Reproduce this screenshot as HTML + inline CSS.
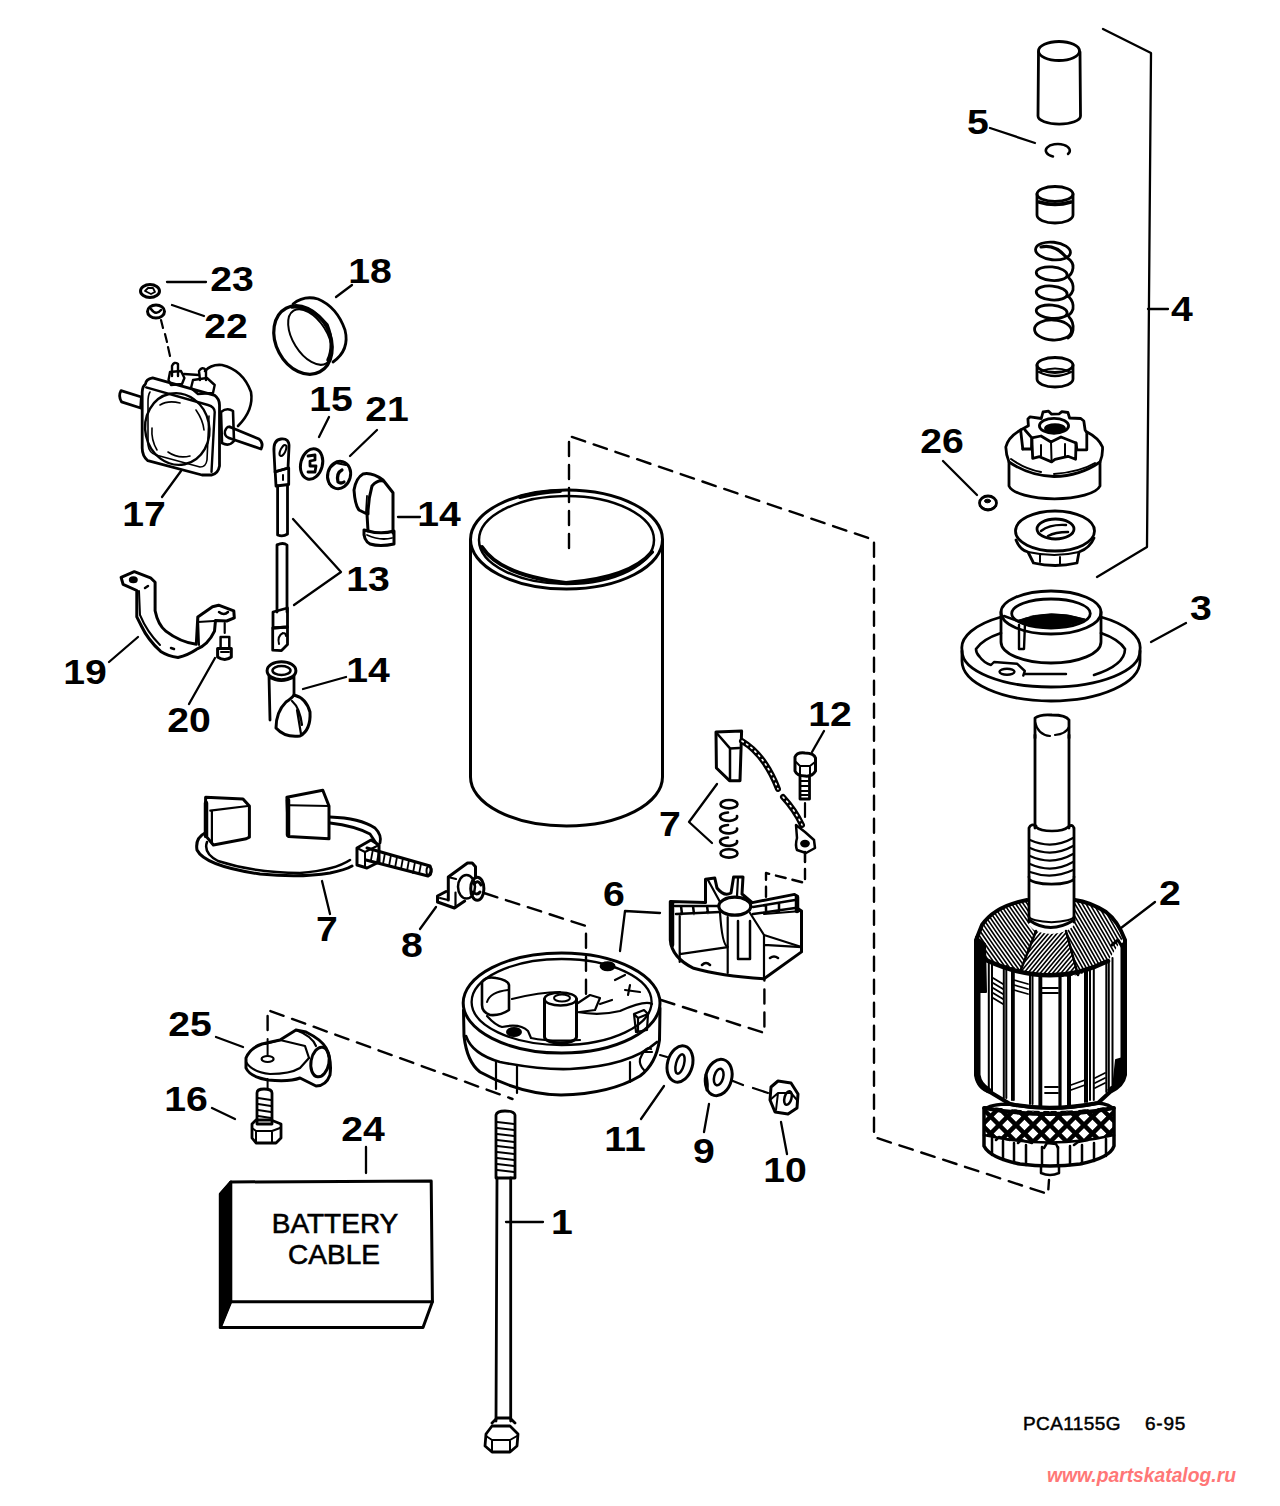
<!DOCTYPE html>
<html><head><meta charset="utf-8"><title>Starter parts diagram</title>
<style>
html,body{margin:0;padding:0;background:#fff;width:1280px;height:1506px;overflow:hidden}
svg{display:block}
.l{font-family:"Liberation Sans",sans-serif;font-weight:bold;font-size:35px;fill:#000;text-anchor:middle;transform-box:fill-box;transform-origin:center;transform:scaleX(1.12)}
.t{font-family:"Liberation Sans",sans-serif;fill:#000}
</style></head><body>
<svg width="1280" height="1506" viewBox="0 0 1280 1506">
<g fill="none" stroke="#000" stroke-width="2.8" stroke-linecap="round" stroke-linejoin="round">

<!-- RIGHT COLUMN -->
<g id="p4">
<ellipse cx="1059" cy="51" rx="20.5" ry="9.5"/>
<path d="M1038.5,52 L1038,116 A21,8 0 0 0 1080.5,116 L1080,52"/>
<path d="M1053,156.5 A12,6.5 0 1 1 1068,154" stroke-width="2.5"/>
<ellipse cx="1055" cy="194" rx="18" ry="7.5"/>
<path d="M1037,194 L1037,215 A18,8 0 0 0 1073,215 L1073,194"/>
<path d="M1039,202 Q1055,207 1071,202" stroke-width="3.5"/>
<g stroke-width="2.8">
<ellipse cx="1053" cy="251" rx="17.5" ry="8.8" transform="rotate(6 1053 251)"/>
<ellipse cx="1051.7" cy="273.7" rx="15.5" ry="6.8" transform="rotate(5 1051.7 273.7)"/>
<ellipse cx="1051.7" cy="293" rx="15.5" ry="7" transform="rotate(5 1051.7 293)"/>
<ellipse cx="1051.7" cy="311.7" rx="15.5" ry="6.6" transform="rotate(5 1051.7 311.7)"/>
<ellipse cx="1053" cy="330" rx="18.5" ry="10" transform="rotate(3 1053 330)"/>
<path d="M1066,257 Q1074,262 1073,268 Q1072,275 1067,277"/>
<path d="M1069,278 Q1074,283 1073,290 Q1071,296 1066,297"/>
<path d="M1069,297 Q1074,302 1073,309 Q1071,315 1066,316"/>
<path d="M1069,317 Q1074,322 1073,330 Q1072,336 1068,338"/>
<path d="M1041,247 Q1055,244 1066,257" stroke-width="3.2"/>
</g>
<ellipse cx="1055" cy="365" rx="18" ry="7.5"/>
<path d="M1037,365 L1037,379 A18,8 0 0 0 1073,379 L1073,365"/>
<path d="M1039,372 Q1055,380 1071,372" stroke-width="2.4"/>
<path d="M1041,371 Q1055,366 1069,371" stroke-width="2"/>
</g>
<g id="pinion">
<path d="M1020.6,430 A48.5,29 0 0 0 1005.8,447 Q1006,455 1009,462 L1009,486 A46,15 0 0 0 1100,486 L1100,462 Q1103,455 1102.5,447 A48.5,29 0 0 0 1087,432"/>
<path d="M1009,462 Q1030,476 1054,476.5 Q1080,476 1100,462"/>
<path d="M1011,459 Q1025,469 1041,472 M1054,474 Q1080,472 1095,463" stroke-width="2"/>
<path d="M1022.8,449 L1020.6,430 L1028.4,425.8 L1027.9,418.9 L1030.1,416.8 L1041.3,418.5 L1043,412 L1048.6,411.2 L1051.6,414.2 L1059.3,413.8 L1061.9,411.6 L1067.9,412.5 L1069.6,418 L1080.8,418.5 L1083.8,421 L1085.1,430 L1086.8,432.7 L1086.8,449.8 L1076.9,449.8 L1076,443"/>
<path d="M1022.8,449 L1031.5,449 L1031.8,437.8 L1025,430"/>
<path d="M1031.8,437.8 L1041,436 L1051,442 L1061,437 L1076,443 L1075.6,459.3 L1067.9,456.3 L1055,459.3 L1051.6,461.9 L1039.5,456.7 L1032.7,458.4 L1031.8,437.8"/>
<path d="M1051,442 L1051.6,461.9 M1041,445 L1041,456 M1065,444 L1065,456" stroke-width="2"/>
<ellipse cx="1054" cy="425.8" rx="14.6" ry="7.5"/>
<ellipse cx="1055" cy="428.5" rx="9.5" ry="3.8" fill="#000"/>
</g>
<g id="p26">
<ellipse cx="988" cy="503" rx="8.5" ry="7"/>
<path d="M980,506 Q988,513 996,506" stroke-width="2"/>
<ellipse cx="987.5" cy="501" rx="3" ry="1.8" fill="#000" stroke-width="1"/>
</g>
<g id="flangenut">
<ellipse cx="1055" cy="531" rx="39.5" ry="20"/>
<path d="M1037,529 A18.5,10 0 1 1 1074,529 A18.5,10 0 1 1 1037,529"/>
<path d="M1041,531 Q1050,524 1066,525 M1048,536 Q1055,532 1068,532" stroke-width="2.5"/>
<path d="M1016,540 Q1020,550 1028,552 L1033.5,563 Q1055,568 1077,563 L1079,552 Q1090,548 1094,538"/>
<path d="M1028,552 Q1055,558 1079,552 M1040,555 L1040,562 M1060,557 L1060,565" stroke-width="2"/>
</g>

<g id="p3">
<path d="M1001,617 A89,37 0 0 0 962,650 L962,661 A89,40 0 0 0 1140,661 L1140,650 A89,37 0 0 0 1101,617"/>
<path d="M962,651 A89,36 0 0 0 1140,651"/>
<path d="M1001,633 A74.6,31 0 0 0 976,649 Q976,653 979,656 M1094,675 Q1125,665 1125,649 A74.6,31 0 0 0 1101,633" stroke-width="2.6"/>
<path d="M979,656 Q984,663 991,665 L994,662 L1017,663.7 L1024.8,671 L1023.3,675.5 M1024,674 L1066,674" stroke-width="2.4"/>
<ellipse cx="1007" cy="671.8" rx="7.5" ry="3" stroke-width="2.4"/>
<path d="M1001,612 L1001,642 A50,21 0 0 0 1101,642 L1101,612"/>
<ellipse cx="1051" cy="612.5" rx="50" ry="21.5"/>
<ellipse cx="1051" cy="613.5" rx="39.3" ry="14.5"/>
<path d="M1019,620 Q1050,608 1085,619 Q1075,626 1051,628 Q1030,627 1019,620 Z" fill="#000" stroke-width="1"/>
<path d="M1004,616 L1018,621 L1029,622 M1019,625 L1019,649 L1024,649 L1025,623" stroke-width="2.4"/>
</g>

<g id="armature">
<defs>
<clipPath id="wA"><path d="M976,940 Q985,915 1010,905 L1028,901 L1029,925 Q1033,930 1036,931 L1020,972 L987,960 Z"/></clipPath>
<clipPath id="wB"><path d="M1036,931 Q1051,937 1066,931 L1078,975 Q1050,980 1020,972 Z"/></clipPath>
<clipPath id="wC"><path d="M1066,931 Q1072,928 1074,925 L1075,900 Q1100,905 1115,920 L1124,936 L1108,961 Q1095,970 1078,975 Z"/></clipPath>
<clipPath id="cm"><path d="M984,1106 Q1050,1116 1114,1106 L1114,1135 Q1050,1150 984,1135 Z"/></clipPath>
</defs>
<path d="M1035,738 L1035,718 Q1040,714 1052,715 Q1066,715 1069,720 L1069,738"/>
<path d="M1035,722 Q1038,735 1050,736 M1055,735 Q1066,734 1069,727" stroke-width="2.2"/>
<path d="M1035,735 L1035,828 M1069,735 L1069,828"/>
<path d="M1029,828 L1029,877 M1074,828 L1074,877 M1029,828 Q1031,823 1036,826 M1069,826 Q1074,824 1074,830" />
<path d="M1036,827 A17,6 0 0 0 1068,827" stroke-width="2.5"/>
<g stroke-width="2.2">
<path d="M1030,840 Q1052,850 1073,838"/>
<path d="M1030,848 Q1052,858 1073,846"/>
<path d="M1030,856 Q1052,866 1073,854"/>
<path d="M1030,864 Q1052,874 1073,862"/>
<path d="M1030,872 Q1052,880 1073,870"/>
</g>
<path d="M1029,877 L1029,922 M1074,877 L1074,922 M1029,878 A22,6 0 0 0 1074,878"/>
<path d="M1029,916 A22,6 0 0 0 1074,916" stroke-width="2"/>
<g clip-path="url(#wA)"><path d="M1036.8,778.6 Q1097.0,874.9 1166.9,964.3 M1034.2,780.4 Q1094.3,876.7 1164.3,966.1 M1031.6,782.2 Q1091.7,878.5 1161.6,968.0 M1029.0,784.1 Q1089.1,880.4 1159.0,969.8 M1026.4,785.9 Q1086.5,882.2 1156.4,971.6 M1023.7,787.7 Q1083.8,884.0 1153.8,973.5 M1021.1,789.6 Q1081.2,885.9 1151.2,975.3 M1018.5,791.4 Q1078.6,887.7 1148.5,977.1 M1015.9,793.3 Q1076.0,889.5 1145.9,979.0 M1013.3,795.1 Q1073.4,891.4 1143.3,980.8 M1010.6,796.9 Q1070.7,893.2 1140.7,982.6 M1008.0,798.8 Q1068.1,895.1 1138.1,984.5 M1005.4,800.6 Q1065.5,896.9 1135.4,986.3 M1002.8,802.4 Q1062.9,898.7 1132.8,988.1 M1000.1,804.3 Q1060.3,900.6 1130.2,990.0 M997.5,806.1 Q1057.6,902.4 1127.6,991.8 M994.9,807.9 Q1055.0,904.2 1124.9,993.6 M992.3,809.8 Q1052.4,906.1 1122.3,995.5 M989.7,811.6 Q1049.8,907.9 1119.7,997.3 M987.0,813.4 Q1047.1,909.7 1117.1,999.2 M984.4,815.3 Q1044.5,911.6 1114.5,1001.0 M981.8,817.1 Q1041.9,913.4 1111.8,1002.8 M979.2,818.9 Q1039.3,915.2 1109.2,1004.7 M976.6,820.8 Q1036.7,917.1 1106.6,1006.5 M973.9,822.6 Q1034.0,918.9 1104.0,1008.3 M971.3,824.5 Q1031.4,920.8 1101.4,1010.2 M968.7,826.3 Q1028.8,922.6 1098.7,1012.0 M966.1,828.1 Q1026.2,924.4 1096.1,1013.8 M963.5,830.0 Q1023.6,926.3 1093.5,1015.7 M960.8,831.8 Q1020.9,928.1 1090.9,1017.5 M958.2,833.6 Q1018.3,929.9 1088.2,1019.3 M955.6,835.5 Q1015.7,931.8 1085.6,1021.2 M953.0,837.3 Q1013.1,933.6 1083.0,1023.0 M950.3,839.1 Q1010.4,935.4 1080.4,1024.9 M947.7,841.0 Q1007.8,937.3 1077.8,1026.7 M945.1,842.8 Q1005.2,939.1 1075.1,1028.5 M942.5,844.6 Q1002.6,940.9 1072.5,1030.4 M939.9,846.5 Q1000.0,942.8 1069.9,1032.2 M937.2,848.3 Q997.3,944.6 1067.3,1034.0 M934.6,850.1 Q994.7,946.4 1064.7,1035.9 M932.0,852.0 Q992.1,948.3 1062.0,1037.7 M929.4,853.8 Q989.5,950.1 1059.4,1039.5 M926.8,855.7 Q986.9,952.0 1056.8,1041.4 M924.1,857.5 Q984.2,953.8 1054.2,1043.2 M921.5,859.3 Q981.6,955.6 1051.5,1045.0 M918.9,861.2 Q979.0,957.5 1048.9,1046.9 M916.3,863.0 Q976.4,959.3 1046.3,1048.7 M913.6,864.8 Q973.8,961.1 1043.7,1050.5 M911.0,866.7 Q971.1,963.0 1041.1,1052.4 M908.4,868.5 Q968.5,964.8 1038.4,1054.2 M905.8,870.3 Q965.9,966.6 1035.8,1056.1 M903.2,872.2 Q963.3,968.5 1033.2,1057.9 M900.5,874.0 Q960.6,970.3 1030.6,1059.7 M897.9,875.8 Q958.0,972.1 1028.0,1061.6 M895.3,877.7 Q955.4,974.0 1025.3,1063.4 M892.7,879.5 Q952.8,975.8 1022.7,1065.2 M890.1,881.4 Q950.2,977.7 1020.1,1067.1 M887.4,883.2 Q947.5,979.5 1017.5,1068.9 M884.8,885.0 Q944.9,981.3 1014.9,1070.7 M882.2,886.9 Q942.3,983.2 1012.2,1072.6 M879.6,888.7 Q939.7,985.0 1009.6,1074.4 M876.9,890.5 Q937.1,986.8 1007.0,1076.2 M874.3,892.4 Q934.4,988.7 1004.4,1078.1 M871.7,894.2 Q931.8,990.5 1001.7,1079.9 M869.1,896.0 Q929.2,992.3 999.1,1081.7 M866.5,897.9 Q926.6,994.2 996.5,1083.6 M863.8,899.7 Q923.9,996.0 993.9,1085.4 M861.2,901.5 Q921.3,997.8 991.3,1087.3 M858.6,903.4 Q918.7,999.7 988.6,1089.1 M856.0,905.2 Q916.1,1001.5 986.0,1090.9 M853.4,907.0 Q913.5,1003.3 983.4,1092.8 M850.7,908.9 Q910.8,1005.2 980.8,1094.6 M848.1,910.7 Q908.2,1007.0 978.2,1096.4" stroke-width="1.6"/></g>
<g clip-path="url(#wB)"><path d="M935.4,966.6 Q983.2,903.5 1037.0,845.5 M937.9,968.7 Q985.6,905.6 1039.5,847.6 M940.3,970.8 Q988.1,907.6 1041.9,849.6 M942.8,972.8 Q990.5,909.7 1044.4,851.7 M945.2,974.9 Q993.0,911.7 1046.8,853.7 M947.7,976.9 Q995.4,913.8 1049.3,855.8 M950.1,979.0 Q997.9,915.8 1051.7,857.9 M952.6,981.0 Q1000.3,917.9 1054.2,859.9 M955.0,983.1 Q1002.8,920.0 1056.6,862.0 M957.5,985.2 Q1005.2,922.0 1059.1,864.0 M959.9,987.2 Q1007.7,924.1 1061.5,866.1 M962.4,989.3 Q1010.1,926.1 1064.0,868.1 M964.8,991.3 Q1012.6,928.2 1066.4,870.2 M967.3,993.4 Q1015.0,930.2 1068.9,872.3 M969.7,995.4 Q1017.5,932.3 1071.4,874.3 M972.2,997.5 Q1019.9,934.4 1073.8,876.4 M974.6,999.5 Q1022.4,936.4 1076.3,878.4 M977.1,1001.6 Q1024.8,938.5 1078.7,880.5 M979.5,1003.7 Q1027.3,940.5 1081.2,882.5 M982.0,1005.7 Q1029.7,942.6 1083.6,884.6 M984.4,1007.8 Q1032.2,944.6 1086.1,886.7 M986.9,1009.8 Q1034.6,946.7 1088.5,888.7 M989.3,1011.9 Q1037.1,948.8 1091.0,890.8 M991.8,1013.9 Q1039.5,950.8 1093.4,892.8 M994.2,1016.0 Q1042.0,952.9 1095.9,894.9 M996.7,1018.1 Q1044.4,954.9 1098.3,896.9 M999.1,1020.1 Q1046.9,957.0 1100.8,899.0 M1001.6,1022.2 Q1049.3,959.0 1103.2,901.1 M1004.0,1024.2 Q1051.8,961.1 1105.7,903.1 M1006.5,1026.3 Q1054.2,963.2 1108.1,905.2 M1008.9,1028.3 Q1056.7,965.2 1110.6,907.2 M1011.4,1030.4 Q1059.1,967.3 1113.0,909.3 M1013.8,1032.5 Q1061.6,969.3 1115.5,911.3 M1016.3,1034.5 Q1064.0,971.4 1117.9,913.4 M1018.7,1036.6 Q1066.5,973.4 1120.4,915.5 M1021.2,1038.6 Q1068.9,975.5 1122.8,917.5 M1023.6,1040.7 Q1071.4,977.6 1125.3,919.6 M1026.1,1042.7 Q1073.9,979.6 1127.7,921.6 M1028.6,1044.8 Q1076.3,981.7 1130.2,923.7 M1031.0,1046.9 Q1078.8,983.7 1132.6,925.7 M1033.5,1048.9 Q1081.2,985.8 1135.1,927.8 M1035.9,1051.0 Q1083.7,987.8 1137.5,929.8 M1038.4,1053.0 Q1086.1,989.9 1140.0,931.9 M1040.8,1055.1 Q1088.6,992.0 1142.4,934.0 M1043.3,1057.1 Q1091.0,994.0 1144.9,936.0 M1045.7,1059.2 Q1093.5,996.1 1147.3,938.1 M1048.2,1061.3 Q1095.9,998.1 1149.8,940.1 M1050.6,1063.3 Q1098.4,1000.2 1152.2,942.2 M1053.1,1065.4 Q1100.8,1002.2 1154.7,944.2 M1055.5,1067.4 Q1103.3,1004.3 1157.1,946.3 M1058.0,1069.5 Q1105.7,1006.4 1159.6,948.4" stroke-width="1.6"/></g>
<g clip-path="url(#wC)"><path d="M1136.9,786.1 Q1197.2,878.5 1247.1,976.9 M1134.2,787.7 Q1194.4,880.1 1244.3,978.5 M1131.4,789.3 Q1191.6,881.7 1241.5,980.1 M1128.6,790.9 Q1188.9,883.3 1238.7,981.7 M1125.9,792.5 Q1186.1,884.9 1236.0,983.3 M1123.1,794.1 Q1183.3,886.5 1233.2,984.9 M1120.3,795.7 Q1180.6,888.1 1230.4,986.5 M1117.5,797.3 Q1177.8,889.7 1227.7,988.1 M1114.8,798.9 Q1175.0,891.3 1224.9,989.7 M1112.0,800.5 Q1172.2,892.9 1222.1,991.3 M1109.2,802.1 Q1169.5,894.5 1219.3,992.9 M1106.5,803.7 Q1166.7,896.1 1216.6,994.5 M1103.7,805.3 Q1163.9,897.7 1213.8,996.1 M1100.9,806.9 Q1161.2,899.3 1211.0,997.7 M1098.1,808.5 Q1158.4,900.9 1208.3,999.3 M1095.4,810.1 Q1155.6,902.5 1205.5,1000.9 M1092.6,811.7 Q1152.9,904.1 1202.7,1002.5 M1089.8,813.3 Q1150.1,905.7 1199.9,1004.1 M1087.1,814.9 Q1147.3,907.3 1197.2,1005.7 M1084.3,816.5 Q1144.5,908.9 1194.4,1007.3 M1081.5,818.1 Q1141.8,910.5 1191.6,1008.9 M1078.7,819.7 Q1139.0,912.1 1188.9,1010.5 M1076.0,821.3 Q1136.2,913.7 1186.1,1012.1 M1073.2,822.9 Q1133.5,915.3 1183.3,1013.7 M1070.4,824.5 Q1130.7,916.9 1180.5,1015.3 M1067.7,826.1 Q1127.9,918.5 1177.8,1016.9 M1064.9,827.7 Q1125.1,920.1 1175.0,1018.5 M1062.1,829.3 Q1122.4,921.7 1172.2,1020.1 M1059.3,830.9 Q1119.6,923.3 1169.5,1021.7 M1056.6,832.5 Q1116.8,924.9 1166.7,1023.3 M1053.8,834.1 Q1114.1,926.5 1163.9,1024.9 M1051.0,835.7 Q1111.3,928.1 1161.1,1026.5 M1048.3,837.3 Q1108.5,929.7 1158.4,1028.1 M1045.5,838.9 Q1105.7,931.3 1155.6,1029.7 M1042.7,840.5 Q1103.0,932.9 1152.8,1031.3 M1039.9,842.1 Q1100.2,934.5 1150.1,1032.9 M1037.2,843.7 Q1097.4,936.1 1147.3,1034.5 M1034.4,845.3 Q1094.7,937.7 1144.5,1036.1 M1031.6,846.9 Q1091.9,939.3 1141.7,1037.7 M1028.9,848.5 Q1089.1,940.9 1139.0,1039.3 M1026.1,850.1 Q1086.3,942.5 1136.2,1040.9 M1023.3,851.7 Q1083.6,944.1 1133.4,1042.5 M1020.5,853.3 Q1080.8,945.7 1130.7,1044.1 M1017.8,854.9 Q1078.0,947.3 1127.9,1045.7 M1015.0,856.5 Q1075.3,948.9 1125.1,1047.3 M1012.2,858.1 Q1072.5,950.5 1122.3,1048.9 M1009.5,859.7 Q1069.7,952.1 1119.6,1050.5 M1006.7,861.3 Q1066.9,953.7 1116.8,1052.1 M1003.9,862.9 Q1064.2,955.3 1114.0,1053.7 M1001.1,864.5 Q1061.4,956.9 1111.3,1055.3 M998.4,866.1 Q1058.6,958.5 1108.5,1056.9 M995.6,867.7 Q1055.9,960.1 1105.7,1058.5 M992.8,869.3 Q1053.1,961.7 1102.9,1060.1 M990.1,870.9 Q1050.3,963.3 1100.2,1061.7 M987.3,872.5 Q1047.5,964.9 1097.4,1063.3 M984.5,874.1 Q1044.8,966.5 1094.6,1064.9 M981.7,875.7 Q1042.0,968.1 1091.9,1066.5 M979.0,877.3 Q1039.2,969.7 1089.1,1068.1 M976.2,878.9 Q1036.5,971.3 1086.3,1069.7 M973.4,880.5 Q1033.7,972.9 1083.5,1071.3 M970.7,882.1 Q1030.9,974.5 1080.8,1072.9 M967.9,883.7 Q1028.1,976.1 1078.0,1074.5 M965.1,885.3 Q1025.4,977.7 1075.2,1076.1 M962.3,886.9 Q1022.6,979.3 1072.5,1077.7 M959.6,888.5 Q1019.8,980.9 1069.7,1079.3 M956.8,890.1 Q1017.1,982.5 1066.9,1080.9 M954.0,891.7 Q1014.3,984.1 1064.1,1082.5 M951.3,893.3 Q1011.5,985.7 1061.4,1084.1 M948.5,894.9 Q1008.7,987.3 1058.6,1085.7 M945.7,896.5 Q1006.0,988.9 1055.8,1087.3 M942.9,898.1 Q1003.2,990.5 1053.1,1088.9" stroke-width="1.6"/></g>
<path d="M1036,931 L1020,972 M1066,931 L1078,975" stroke-width="2.5"/>
<path d="M1027,900 Q995,906 982,925 L976,940 L976,1075 Q978,1088 990,1092 L1010,1104 Q1050,1112 1098,1103 L1110,1092 Q1123,1086 1125,1075 L1125,940 Q1118,921 1106,912 Q1090,902 1075,900" stroke-width="4"/>
<path d="M1029,920 Q1050,935 1074,920" stroke-width="3"/>
<path d="M986,960 Q1050,990 1108,961" stroke-width="4.5"/>
<path d="M977.5,945 L977.5,1075 Q979,1085 988,1090" stroke-width="6"/>
<path d="M976,937 L985,944 L986,992 L976,992 Z" fill="#000" stroke-width="2"/>
<path d="M1116,1060 L1123,1058 L1123,1075 Q1120,1085 1113,1088 Z" fill="#000" stroke-width="2"/>
<path d="M1123,945 L1123,1070 Q1122,1082 1110,1090" stroke-width="5"/>
<path d="M1112,945 L1118,940 L1124,950" stroke-width="3"/>
<g stroke-width="2">
<path d="M988.8,962 L988.8,1090 M992,962 L992,1092 M1003.8,966 L1003.8,1098 M1006.3,966 L1006.3,1098 M1012,968 L1012,1100 M1013.8,968 L1013.8,1100 M1030,973 L1030,1104 M1032.5,973 L1032.5,1104 M1039.4,975 L1039.4,1106 M1041.3,975 L1041.3,1106 M1059.4,976 L1059.4,1106 M1060.6,976 L1060.6,1106 M1068,975 L1068,1105 M1070,975 L1070,1105 M1085,970 L1085,1102 M1087,970 L1087,1102 M1090,968 L1090,1100 M1093.8,968 L1093.8,1100 M1106.3,962 L1106.3,1092 M1108.8,962 L1108.8,1092 M1112.5,958 L1112.5,1085"/>
</g>
<g stroke-width="1.8">
<path d="M993,978 L1003,984 M993,983 L1003,989 M993,988 L1003,994 M993,993 L1003,999 M993,998 L1003,1004 M1014,980 L1028,984 M1014,985 L1028,989 M1014,990 L1028,994 M1041,988 L1058,988 M1041,993 L1058,993 M1071,1085 L1085,1080 M1071,1090 L1085,1085 M1095,1078 L1105,1073 M1095,1083 L1105,1078 M1095,1088 L1105,1083 M1045,1087 L1058,1087 M1045,1093 L1058,1093"/>
</g>
<path d="M984,1110 Q990,1104 1010,1104 Q1050,1113 1098,1103 Q1110,1104 1114,1110 L1114,1146 Q1110,1158 1080,1164 Q1050,1168 1020,1164 Q990,1158 984,1146 Z" stroke-width="3.5"/>
<g clip-path="url(#cm)" stroke-width="4"><path d="M1055.2,909.6 L1265.4,1119.8 M1046.7,918.1 L1256.9,1128.3 M1038.2,926.5 L1248.5,1136.8 M1029.7,935.0 L1240.0,1145.3 M1021.2,943.5 L1231.5,1153.8 M1012.8,952.0 L1223.0,1162.2 M1004.3,960.5 L1214.5,1170.7 M995.8,969.0 L1206.0,1179.2 M987.3,977.5 L1197.5,1187.7 M978.8,985.9 L1189.1,1196.2 M970.3,994.4 L1180.6,1204.7 M961.9,1002.9 L1172.1,1213.1 M953.4,1011.4 L1163.6,1221.6 M944.9,1019.9 L1155.1,1230.1 M936.4,1028.4 L1146.6,1238.6 M927.9,1036.9 L1138.1,1247.1 M919.4,1045.3 L1129.7,1255.6 M910.9,1053.8 L1121.2,1264.1 M902.5,1062.3 L1112.7,1272.5 M894.0,1070.8 L1104.2,1281.0 M885.5,1079.3 L1095.7,1289.5 M877.0,1087.8 L1087.2,1298.0 M868.5,1096.2 L1078.8,1306.5 M860.0,1104.7 L1070.3,1315.0 M851.5,1113.2 L1061.8,1323.5 M843.1,1121.7 L1053.3,1331.9 M834.6,1130.2 L1044.8,1340.4" stroke-width="4.5"/><path d="M834.6,1119.8 L1044.8,909.6 M843.1,1128.3 L1053.3,918.1 M851.5,1136.8 L1061.8,926.5 M860.0,1145.3 L1070.3,935.0 M868.5,1153.8 L1078.8,943.5 M877.0,1162.2 L1087.2,952.0 M885.5,1170.7 L1095.7,960.5 M894.0,1179.2 L1104.2,969.0 M902.5,1187.7 L1112.7,977.5 M910.9,1196.2 L1121.2,985.9 M919.4,1204.7 L1129.7,994.4 M927.9,1213.1 L1138.1,1002.9 M936.4,1221.6 L1146.6,1011.4 M944.9,1230.1 L1155.1,1019.9 M953.4,1238.6 L1163.6,1028.4 M961.9,1247.1 L1172.1,1036.9 M970.3,1255.6 L1180.6,1045.3 M978.8,1264.1 L1189.1,1053.8 M987.3,1272.5 L1197.5,1062.3 M995.8,1281.0 L1206.0,1070.8 M1004.3,1289.5 L1214.5,1079.3 M1012.8,1298.0 L1223.0,1087.8 M1021.2,1306.5 L1231.5,1096.2 M1029.7,1315.0 L1240.0,1104.7 M1038.2,1323.5 L1248.5,1113.2 M1046.7,1331.9 L1256.9,1121.7 M1055.2,1340.4 L1265.4,1130.2" stroke-width="4.5"/></g>
<path d="M984,1108 Q1050,1120 1114,1108" stroke-width="4"/>
<path d="M984,1135 Q1050,1150 1114,1135" stroke-width="2.5"/>
<g stroke-width="2.5">
<path d="M992,1138 L992,1155 M1003,1141 L1003,1160 M1014,1143 L1014,1163 M1026,1145 L1026,1165 M1042,1147 L1042,1166 M1058,1147 L1058,1166 M1070,1146 L1070,1165 M1082,1145 L1082,1164 M1094,1143 L1094,1161 M1106,1139 L1106,1156"/>
<path d="M996,1140 L999,1137 L1010,1140 M1018,1143 L1021,1140 L1032,1143 M1044,1148 L1047,1143 L1056,1144 L1058,1148 M1074,1145 L1078,1142 L1088,1140"/>
</g>
<path d="M1041,1166 L1041,1173 Q1050,1177 1059,1173 L1059,1166" stroke-width="2.5"/>
</g>
<g id="frame">
<ellipse cx="566.5" cy="539.5" rx="96" ry="49.5" stroke-width="3"/>
<ellipse cx="566.5" cy="540" rx="87.5" ry="44" stroke-width="2.5"/>
<path d="M482,547 Q500,575 566,583 Q630,578 652,552" stroke-width="4"/>
<path d="M520,497 Q540,492 560,491" stroke-width="4"/>
<path d="M470.5,540 L470.5,777 A96,49 0 0 0 662.5,777 L662.5,540" stroke-width="3"/>
</g>
<g id="brush7a">
<path d="M716,732 L741.6,731 L740,780.7 L729.5,780.7 L716.4,768 Z" stroke-width="3"/>
<path d="M717.5,734 L730,748.4 L739,748 M730,748.4 L730,780" stroke-width="2.5"/>
<path d="M742,741 Q765,755 778,789" stroke-width="6"/>
<path d="M742,741 Q765,755 778,789" stroke="#fff" stroke-width="1.6" stroke-dasharray="1.5,4"/>
<path d="M783,797 Q795,810 802,825" stroke-width="6"/>
<path d="M783,797 Q795,810 802,825" stroke="#fff" stroke-width="1.6" stroke-dasharray="1.5,4"/>
<path d="M796,825 L797,838 Q795,845 797,850 L806,853 L815,848 L814,840 L805,832 Z" stroke-width="2.5"/>
<ellipse cx="805" cy="843.6" rx="3.5" ry="2.5" fill="#000"/>
<g stroke-width="2.6">
<ellipse cx="729" cy="804.2" rx="8.5" ry="4.2"/>
<path d="M737,816 A8.5,4.2 0 1 1 728,812.5 M737,828.5 A8.5,4.2 0 1 1 728,825 M737,841 A8.5,4.2 0 1 1 728,837.5"/>
<ellipse cx="729" cy="853.4" rx="8.5" ry="4.2"/>
</g>
</g>
<g id="bolt12">
<path d="M795,757 Q797,752 805,753 Q814,753 815.5,758 L815.5,771 Q812,777 805,776 Q797,776 795,771 Z" stroke-width="3"/>
<path d="M796,762 L800,766 L810,766 L815,762 M800,766 L800,775 M810,766 L810,775" stroke-width="2"/>
<path d="M800,776 L800,799 L809.5,799 L809.5,776" stroke-width="2.8"/>
<path d="M801,781 L808,781 M801,786 L808,786 M801,791 L808,791 M801,795 L808,795" stroke-width="1.8"/>
<path d="M805,803 L805,817 M805,852 L805,862" stroke-width="2.2"/>
</g>
<g id="holder6">
<path d="M670.3,901.5 L705.5,902.6 L705.5,879.2 L714.8,878 L717,888 Q724,897 731,893 L733.6,876.9 L743,876.9 L742,894 L752.3,902.6 L794.5,894.4 L797,896 L797,908 L801.5,911 L801.5,951.9 L764,978.8 Q720,976 693.7,968.3 Q672,958 670.3,940 Z" stroke-width="3"/>
<path d="M672,903 L672,945" stroke-width="4.5"/>
<path d="M797,897 L797,911" stroke-width="4.5"/>
<ellipse cx="734.8" cy="906.2" rx="16" ry="9" stroke-width="3.2"/>
<path d="M675,906 L718,906 M676,914 L720,912 M681,906 L682,914 M693,906 L694,914 M707,906 L708,913" stroke-width="2.5"/>
<path d="M753,907 L795,900 M753,914 L795,908 M766,905 L766,913 M779,903 L779,911" stroke-width="2.5"/>
<path d="M708,880 L720,902 M738,878 L737,896 M720,912 Q722,945 727.7,947 M750,913 L764,935 L801.5,947" stroke-width="2.2"/>
<path d="M727.7,917 L727.7,973 M764,935 L764,978.8 M679.7,954.2 L727.7,947.2 M679.7,916 L679.7,962 M764,944.8 L801.5,947.2 M801.5,911 L764,914" stroke-width="2.2"/>
<path d="M738,921 L738,959 L750,959 L750,921" stroke-width="2.5"/>
<path d="M702,965 Q706,961 710,965 M770,958 Q774,955 778,958" stroke-width="2.5"/>
</g>
<g id="endcap">
<ellipse cx="561.6" cy="1003" rx="98.4" ry="50" stroke-width="3"/>
<ellipse cx="561.6" cy="1002" rx="90" ry="43" stroke-width="2.3"/>
<path d="M463.5,1010 L464,1036 Q467,1062 480,1072 Q520,1094 561,1095 Q610,1094 640,1076 Q656,1064 659.5,1040 L660,1008" stroke-width="3"/>
<path d="M466,1036 Q472,1054 500,1062 Q540,1070 570,1069 Q630,1066 657,1042" stroke-width="2.6"/>
<path d="M496,1061 L496,1089 M517,1066 L517,1093 M630,1062 L630,1082" stroke-width="2.2"/>
<path d="M482,982 Q486,976 496,978 Q508,980 509,985 L509,1010 Q500,1016 490,1015 Q482,1012 482,1005 Z" stroke-width="2.6"/>
<path d="M487,1002 Q490,992 508,990" stroke-width="2"/>
<path d="M544.5,999 L544.5,1037 A16,6 0 0 0 576.5,1037 L576.5,999" stroke-width="3"/>
<ellipse cx="560.5" cy="999" rx="16" ry="6.5" stroke-width="2.5"/>
<ellipse cx="562" cy="998" rx="8" ry="3.5" stroke-width="2"/>
<path d="M512,999 Q540,992 560,992 M487,1016 Q495,1025 502,1027 Q520,1023 528,1031 L531,1038 Q550,1042 580,1040 M577,1012 Q600,1016 620,1011 Q645,1000 652,1004" stroke-width="2.2"/>
<path d="M578,1003 L590,995 L600,998 L595,1010 L580,1012 M600,1004 L612,1000 M625,990 L640,992 M630,985 L628,995 M615,980 L625,975" stroke-width="2.2"/>
<ellipse cx="514" cy="1032" rx="7" ry="4" fill="#000" stroke-width="2"/>
<ellipse cx="607.6" cy="966.3" rx="7" ry="4" fill="#000" stroke-width="2"/>
<path d="M640,1059 Q646,1045 651,1049 M640,1059 Q639,1065 644,1070 M643,1052 L652,1052" stroke-width="2.2"/>

<path d="M634,1014 L644,1010 L648,1014 L647,1030 L636,1032 Z M634,1014 L638,1018 L638,1032 M638,1018 L648,1014" stroke-width="2.2"/>
</g>
<g id="washers">
<ellipse cx="680" cy="1064" rx="12.5" ry="18.5" transform="rotate(15 680 1064)" stroke-width="3"/>
<ellipse cx="680" cy="1064" rx="4" ry="10" transform="rotate(15 680 1064)" stroke-width="2.5"/>
<path d="M667,1057 L660,1055" stroke-width="2.2"/>
<ellipse cx="718.7" cy="1077.5" rx="13" ry="18.5" transform="rotate(15 718.7 1077.5)" stroke-width="3"/>
<path d="M707,1090 Q708,1085 706,1075" stroke-width="3"/>
<ellipse cx="718.7" cy="1077" rx="4.5" ry="8.5" transform="rotate(15 718.7 1077)" stroke-width="2.5"/>
<path d="M733,1081 L743,1085 M753,1088 L768,1093" stroke-width="2.2"/>
<path d="M771,1087 L778,1081 L791,1083 L798,1094 L797,1108 L788,1114 L775,1112 L770,1100 Z" stroke-width="3"/>
<path d="M770,1100 L778,1093 L791,1093 L797,1100 M778,1093 L776,1110" stroke-width="2"/>
<ellipse cx="788" cy="1098" rx="3.5" ry="7" transform="rotate(15 788 1098)" stroke-width="2.5"/>
</g>
<g id="left">
<g id="nut23">
<ellipse cx="150" cy="291" rx="9.5" ry="6.5" stroke-width="3"/>
<path d="M145,291 L148,288 L153,288 L155,292 L151,294 Z" stroke-width="1.8"/>
<ellipse cx="156" cy="311.5" rx="8.5" ry="6.5" stroke-width="3"/>
<path d="M151,309 Q156,316 161,310" stroke-width="2.5"/>
<path d="M161,320 L163,328 M165,334 L167,342 M168,347 L170,356" stroke-width="2.2"/>
</g>
<g id="sol17">
<path d="M205,371 Q211,364 222,365 Q243,370 251,392 Q254,410 238,426" stroke-width="2.6"/>
<path d="M145.4,384.2 Q146,379 152.6,377.9 L214.7,395.4 Q219.5,399 219.5,405 L219.5,466 Q218,474 211.5,475 L202,475 L147.8,460.7 Q142.2,456 142.2,448 L142.2,392.2 Q142.5,386 145.4,384.2 Z" stroke-width="2.8"/>
<path d="M146.2,387.4 L208,405 Q214.7,407 214.7,412 L211.5,471.9" stroke-width="2.4"/>
<path d="M150,392 Q148,395 148,402 L148,445 Q149,453 156,455 L200,467 Q206,467 207,460 L209,416" stroke-width="1.6"/>
<ellipse cx="177.3" cy="429" rx="32" ry="36" transform="rotate(-12 177.3 429)" stroke-width="2.4"/>
<path d="M160,405 Q168,400 180,403 M190,456 Q178,459 168,452 M152,428 Q151,440 157,450 M196,410 Q203,420 204,430" stroke-width="1.6"/>
<path d="M121,390.6 L141.4,397 L140.6,408 L121.5,401.8 Q118,396 121,390.6 Z" stroke-width="2.8"/>
<path d="M221,412 Q227,407 233,411 L234,441 Q229,447 222,443 Z" stroke-width="2.6"/>
<path d="M230,427 L259,439 Q264,443 261,449 L229,438" stroke-width="2.8"/>
<path d="M229,438 Q224,436 225,431 Q227,426 230,427" stroke-width="2.4"/>
<path d="M172,376 L172,366 Q174,361 178,364 L178,376" stroke-width="2.4"/>
<path d="M168.5,380 L170,372 L181,371 L184.4,378 L182,384 L171,385 Z" stroke-width="2.4"/>
<path d="M200,380 L199,371 Q202,366 206,370 L206,380" stroke-width="2.4"/>
<path d="M191,388 L193,380 L207,378 L214.7,385 L213,393 L198,394 Z" stroke-width="2.4"/>
<path d="M184,374 L199,375" stroke-width="2.6"/>
</g>
<g id="ring18">
<path d="M293,304 Q304,295 318,299 Q337,307 345,330 Q350,350 333,362" stroke-width="2.8"/>
<ellipse cx="303" cy="340" rx="27" ry="36" transform="rotate(-28 303 340)" stroke-width="3.2"/>
<ellipse cx="310" cy="337" rx="17" ry="31" transform="rotate(-32 310 337)" stroke-width="2"/>
<path d="M292,307 Q310,305 327,325 Q335,345 328,360" stroke-width="3.5"/>
</g>
<g id="cable13">
<path d="M274,452 Q273,440 281,439 Q289.5,438 289,447 L288,468 L275,472 Z" stroke-width="2.8"/>
<ellipse cx="283" cy="450.5" rx="2.5" ry="6" transform="rotate(25 283 450.5)" stroke-width="2"/>
<path d="M275.2,471.6 L288.7,468 L288.7,484.5 L276,486 Z" stroke-width="2.8"/>
<path d="M283,475 L283,480" stroke-width="2"/>
<path d="M277.6,486 L277.6,535 Q283,537 287.5,534 L287.5,485" stroke-width="2.8"/>
<path d="M277,552 L277,545 Q283,542 287,545 L287,552 M277,545 L277,612 M287,552 L287,612" stroke-width="2.8"/>
<path d="M273,612 L287.5,608 L287.5,627 L273,628 Z" stroke-width="2.8"/>
<path d="M272.7,628 L287.5,627 L287.5,644.6 L281.5,650.6 L272.7,650.2 Z" stroke-width="2.8"/>
<path d="M283,633 Q277,636 279,644 M283,633 Q286,633 286,636" stroke-width="2"/>
</g>
<g id="wash15">
<ellipse cx="311.6" cy="464" rx="10.8" ry="15.5" transform="rotate(15 311.6 464)" stroke-width="3"/>
<path d="M308,456 L315,455 L315,460 L310,461 L310,466 L316,466 L315,472 L308,472" stroke-width="2.8"/>
<ellipse cx="339.1" cy="475" rx="11.4" ry="13.8" transform="rotate(15 339 475)" stroke-width="3"/>
<path d="M330,468 L336,463 L346,465 M329,484 L335,488" stroke-width="2"/>
<path d="M342,470 Q336,473 338,482 Q341,484 344,482" stroke-width="3.2"/>
</g>
<g id="boot14a">
<path d="M354,490 Q356,478 363,474 Q372,472 383,480 L393,492.7 L393,533 M354,490 Q355,505 359,510 L367,514 L368,531 M368,514 Q368,500 372,486 Q377,480 383,481" stroke-width="3"/>
<path d="M364,530 Q363,540 370,544 Q380,547 394,544 L394,531 Q380,535 364,530 Z" stroke-width="3"/>
<path d="M367,535 Q380,541 392,538" stroke-width="1.8"/>
<path d="M367,496 L366,512" stroke-width="1.8"/>
</g>
<g id="clamp19">
<path d="M121.1,577.3 L134.3,571.7 L150.5,577.8 L155.1,582.3 L155.1,610.8 Q158,625 165.8,631.1 Q180,642 196.3,644.3 L197.8,616.9 L212.5,606.7 L218.6,605.2 L233.8,610.8 L234.3,617.9 L226.7,621 L215.5,620.4 L214.5,631.1 Q208,645 196.3,649.4 Q188,655 178,657.5 Q168,656 160.7,651.4 Q148,640 141.4,626 L136.8,616.9 L136.8,590.5 L123.1,584.4 Z" stroke-width="3"/>
<path d="M139,591 L140,615 Q147,632 160,645 M198,617 L199,645 M198,622 L214,621" stroke-width="2"/>
<path d="M145,588 L148,586 M171,648 L174,649 M219,612 Q224,616 228,612" stroke-width="2.5"/>
<ellipse cx="133.3" cy="579.8" rx="3.5" ry="2.5" fill="#000" stroke-width="2"/>
<path d="M224.7,623 L224.7,633" stroke-width="2.2"/>
<path d="M220.6,637 L229.3,637 L229.3,648.4 L220.6,648.4 Z" stroke-width="2.5"/>
<path d="M217.6,648.4 L231.3,648.4 L231.3,657 Q225,662 217.6,657 Z" stroke-width="3"/>
<path d="M221,652 L229,652" stroke-width="2"/>
</g>
<g id="boot14b">
<ellipse cx="281.5" cy="670.7" rx="14.4" ry="9" stroke-width="3"/>
<ellipse cx="281.5" cy="670.5" rx="9" ry="4.5" stroke-width="2.5"/>
<path d="M269,676 L270,720 M294,676 L294,695 M269,677 Q281,684 294,677" stroke-width="2.8"/>
<path d="M294,695 Q306,698 310,712 Q311,730 300,736 Q285,738 276,728 Q276,712 286,702 Q292,698 294,695" stroke-width="3"/>
<path d="M292,701 Q300,708 302,725 M297,710 L301,734" stroke-width="2.2"/>
</g>
<g id="brush7b">
<path d="M205.6,797.3 L243,798.9 L249.4,806 L249.4,837.2 L246.25,838.75 L213.4,845 L205.6,835.6 Z" stroke-width="3"/>
<path d="M210.3,810.6 L247.8,806 M211.9,810.6 L211.9,843.4" stroke-width="2.2"/>
<path d="M206,803 L206,836" stroke-width="4.5"/>
<path d="M286.9,797.3 L322.8,790.3 L329,806 L329,838.75 L288.4,836.4 Z" stroke-width="3"/>
<path d="M290,805.2 L329,806" stroke-width="2"/>
<path d="M288,800 L288,835" stroke-width="4.5"/>
<path d="M205,833 Q195,838 197,850 Q205,866 260,874 Q300,878 330,873 Q345,870 352,866" stroke-width="3"/>
<path d="M207,842 Q203,853 218,861 Q255,873 300,873 Q335,870 350,860" stroke-width="2.5"/>
<path d="M330,817 Q360,818 375,828 Q382,835 380,843 M330,823 Q355,826 370,834 L376,843" stroke-width="2.8"/>
<path d="M357,848 L371,840 L379,845 L379,862 L367,868 L357,865 Z" stroke-width="3"/>
<path d="M357,848 L365,852 L365,867 M365,852 L379,845" stroke-width="2"/>
<path d="M367,848 L430,866 Q433,872 428,876 L366,860" stroke-width="3"/>
<path d="M373,849 L371,860 M379,851 L377,862 M385,853 L383,864 M391,855 L389,866 M397,857 L395,868 M403,858 L401,869 M409,860 L407,871 M415,862 L413,873 M421,864 L419,874" stroke-width="1.8"/>
<ellipse cx="429" cy="871" rx="2.5" ry="4.5" stroke-width="2"/>
</g>
<g id="part8">
<path d="M446,891.5 L437.5,896 L437.5,902 L454.4,908 L464.7,901" stroke-width="3"/>
<path d="M448.3,900 L448.3,877 L467.5,863 L472.2,863 L475.5,866.7 L475.5,877.5" stroke-width="3"/>
<path d="M450,877.5 L456,879 M455.5,892.5 L455.5,907.5 M440,898 L448,900" stroke-width="2.2"/>
<ellipse cx="466.5" cy="886.8" rx="8.5" ry="11.8" stroke-width="2.5"/>
<ellipse cx="477.3" cy="888.75" rx="6.6" ry="11.5" stroke-width="3"/>
<path d="M474,884 Q478,879 481,885 M473,892 Q477,896 480,892" stroke-width="3"/>
</g>
<g id="clamp25">
<path d="M246,1058 Q250,1048 262,1044 L280,1040 L296,1030 L306,1032 Q322,1040 326,1048 Q332,1060 330,1075 Q326,1086 316,1086 L300,1078 Q290,1082 268,1080 Q250,1077 246,1068 Z" stroke-width="3"/>
<path d="M246,1062 Q252,1072 270,1074 Q290,1074 300,1068 L309,1058" stroke-width="2.2"/>
<ellipse cx="320" cy="1062" rx="9" ry="15" transform="rotate(10 320 1062)" stroke-width="3"/>
<path d="M265,1044 L280,1040 L305,1046 L309,1058 M296,1030 Q312,1036 316,1046" stroke-width="2.2"/>
<ellipse cx="267.6" cy="1059" rx="6" ry="3" stroke-width="2.2"/>
<path d="M267.6,1039 L267.6,1056 M267.6,1079 L267.6,1088" stroke-width="2"/>
</g>
<g id="bolt16">
<path d="M257,1093 Q257,1089 264,1089 Q272,1089 272,1093 L272,1124 L257,1124 Z" stroke-width="2.8"/>
<path d="M258,1098 L271,1100 M258,1104 L271,1106 M258,1110 L271,1112 M258,1116 L271,1118" stroke-width="2"/>
<path d="M252,1124 L256,1120 L271,1120 L281,1124 L281,1138 L276,1143 L256,1143 L252,1138 Z" stroke-width="2.8"/>
<path d="M252,1128 L256,1131 L272,1131 L280,1128 M256,1131 L256,1142 M272,1131 L272,1142" stroke-width="2"/>
</g>
<g id="box24">
<path d="M230.8,1182 L431.2,1181 L432.4,1301.7 L230.8,1301.7 Z" stroke-width="3"/>
<path d="M230.8,1182 L220.3,1194 L220.3,1327.5 L423,1327.5 L432.4,1301.7 M220.3,1327.5 L230.8,1301.7" stroke-width="3"/>
<path d="M220.3,1194 L230.8,1182 L230.8,1301.7 L220.3,1327.5 Z" fill="#000" stroke-width="2"/>
</g>
<g id="rod1">
<path d="M496,1115 Q497,1111 505,1111 Q514,1111 515,1115 L515,1178 L496,1178 Z" stroke-width="2.8"/>
<path d="M497,1122 L514,1124 M497,1128 L514,1130 M497,1134 L514,1136 M497,1140 L514,1142 M497,1146 L514,1148 M497,1152 L514,1154 M497,1158 L514,1160 M497,1164 L514,1166 M497,1170 L514,1172" stroke-width="2"/>
<path d="M497,1178 L496,1421 M510.7,1178 L510.7,1421" stroke-width="2.8"/>
<path d="M492,1423 L497,1418 L510,1418 L515,1423 M486,1434 L492,1426 L510,1426 L518,1434 L517,1446 L510,1452 L492,1452 L485,1446 Z" stroke-width="2.8"/>
<path d="M486,1436 L492,1440 L510,1440 L517,1436 M492,1440 L492,1451 M510,1440 L510,1451" stroke-width="2"/>
</g>
</g>
<!-- LEADERS -->
<g id="leaders" stroke-width="2.3">
<path d="M990,128 L1035,143"/>
<path d="M1103,29 L1151,53 L1147,547 L1097,577"/>
<path d="M1148,309 L1168,309"/>
<path d="M943,461 L977,495"/>
<path d="M1151,642 L1186,623"/>
<path d="M1121,928 L1155,902"/>
<path d="M167,282 L206,282"/>
<path d="M172,305 L204,316"/>
<path d="M336,297 L352,285"/>
<path d="M319,437 L329,417"/>
<path d="M350,456 L377,430"/>
<path d="M181,471 L162,497"/>
<path d="M398,517 L420,517"/>
<path d="M293,519 L341,572 L294,605"/>
<path d="M109,662 L138,637"/>
<path d="M189,704 L215,658"/>
<path d="M303,689 L346,677"/>
<path d="M812,752 L824,731"/>
<path d="M717,784 L689,822 L712,843"/>
<path d="M660,913 L625,911 L620,951"/>
<path d="M322,881 L330,914"/>
<path d="M420,929 L436,907"/>
<path d="M216,1037 L243,1047"/>
<path d="M212,1108 L235,1119"/>
<path d="M366,1147 L366,1173"/>
<path d="M641,1119 L664,1086"/>
<path d="M704,1132 L709,1104"/>
<path d="M787,1154 L781,1122"/>
<path d="M506,1222 L543,1222"/>
</g>
<!-- DASHED -->
<g id="dashed" stroke-width="2.4" stroke-dasharray="14,9">
<path d="M569,548 L569,436 L874,540 L874,1137 L1048,1194 L1049,1180"/>
<path d="M484,893 L586,926 L586,1000"/>
<path d="M661,1000 L764.4,1033 L764.4,978"/>
<path d="M805,852 L805,883 L766,873 L766,900" stroke-dasharray="10,7"/>
<path d="M267.6,1030 L267.6,1010 L512.5,1099"/>
</g>
</g>
<g id="labels">
<text class="l" x="978" y="134">5</text>
<text class="l" x="1182" y="321">4</text>
<text class="l" x="942" y="453">26</text>
<text class="l" x="1201" y="620">3</text>
<text class="l" x="1170" y="905">2</text>
<text class="l" x="232" y="291">23</text>
<text class="l" x="226" y="338">22</text>
<text class="l" x="370" y="283">18</text>
<text class="l" x="331" y="411">15</text>
<text class="l" x="387" y="421">21</text>
<text class="l" x="144" y="526">17</text>
<text class="l" x="439" y="526">14</text>
<text class="l" x="368" y="591">13</text>
<text class="l" x="85" y="684">19</text>
<text class="l" x="189" y="732">20</text>
<text class="l" x="368" y="682">14</text>
<text class="l" x="830" y="726">12</text>
<text class="l" x="670" y="836">7</text>
<text class="l" x="614" y="906">6</text>
<text class="l" x="327" y="941">7</text>
<text class="l" x="412" y="957">8</text>
<text class="l" x="190" y="1036">25</text>
<text class="l" x="186" y="1111">16</text>
<text class="l" x="363" y="1141">24</text>
<text class="l" x="625" y="1151">11</text>
<text class="l" x="704" y="1163">9</text>
<text class="l" x="785" y="1182">10</text>
<text class="l" x="562" y="1234">1</text>
<text class="t" x="335" y="1232.6" font-size="28" text-anchor="middle" stroke="#000" stroke-width="0.6">BATTERY</text>
<text class="t" x="334" y="1264" font-size="28" text-anchor="middle" stroke="#000" stroke-width="0.6">CABLE</text>
<text class="t" x="1023" y="1429.5" font-size="19" letter-spacing="0.4" stroke="#000" stroke-width="0.5">PCA1155G</text>
<text class="t" x="1145" y="1429.5" font-size="19" letter-spacing="0.8" stroke="#000" stroke-width="0.5">6-95</text>
<text class="t" x="1047" y="1482" font-size="19.3" style="fill:#f77;font-weight:bold;font-style:italic">www.partskatalog.ru</text>
</g>
</svg>
</body></html>
